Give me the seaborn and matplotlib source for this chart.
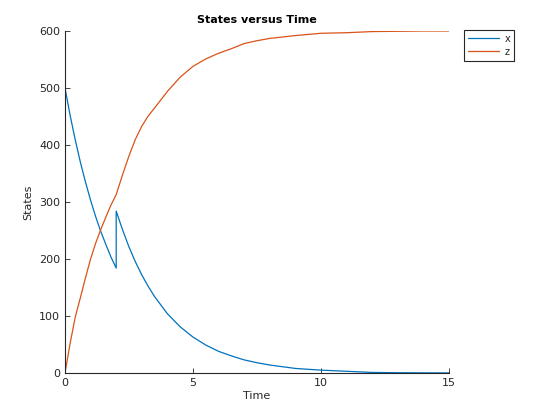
import matplotlib
matplotlib.use("Agg")
import matplotlib.pyplot as plt
import seaborn as sns
import numpy as np

time = [0, 0.2, 0.4, 0.6, 0.8, 1.0, 1.2, 1.4, 1.6, 1.8, 2.0, 2.0, 2.25, 2.5, 2.75,
        3.0, 3.25, 3.5, 4.0, 4.5, 5.0, 5.5, 6.0, 6.5, 7.0, 7.5, 8.0, 9.0, 10.0,
        11.0, 12.0, 13.0, 14.0, 15.0]
x_vals = [500, 452, 409, 370, 335, 303, 274, 248, 225, 203, 184, 284, 251, 221, 195,
          172, 152, 134, 104, 81, 63, 49, 38, 30, 23, 18, 14, 8, 5,
          3, 1, 0.5, 0.3, 0.2]
z_vals = [0, 52, 98, 132, 167, 200, 228, 252, 274, 295, 313, 313, 348, 381, 410,
          433, 451, 465, 494, 519, 538, 551, 561, 569, 578, 583, 587, 592, 596,
          597, 599, 599.5, 600, 600]
series_names = ["x", "z"]
x_ticks = [0, 5, 10, 15]
y_ticks = [0, 100, 200, 300, 400, 500, 600]

sns.set_style("ticks")
plt.rcParams["font.family"] = ["DejaVu Sans"]

fig = plt.figure(figsize=(5.6, 4.2), dpi=100)
ax = fig.add_axes([65/560, 47/420, 384/560, 342/420])

colors = ["#0072BD", "#D95319"]
sns.lineplot(x=time, y=x_vals, ax=ax, estimator=None, sort=False, color=colors[0],
             linewidth=0.9, label=series_names[0])
sns.lineplot(x=time, y=z_vals, ax=ax, estimator=None, sort=False, color=colors[1],
             linewidth=0.9, label=series_names[1])

ax.set_xlim(0, 15)
ax.set_ylim(0, 600)
ax.set_xticks(x_ticks)
ax.set_yticks(y_ticks)
ax.tick_params(direction="in", length=3.5, width=0.6, labelsize=8, colors="#262626")
for s in ["top", "right"]:
    ax.spines[s].set_visible(False)
for s in ["left", "bottom"]:
    ax.spines[s].set_color("#262626")
    ax.spines[s].set_linewidth(0.8)

ax.set_title("States versus Time", fontsize=8, fontweight="bold", color="black", pad=6)
ax.set_xlabel("Time", fontsize=8, color="#262626", labelpad=2)
ax.set_ylabel("States", fontsize=8, color="#262626", labelpad=4)

leg = ax.legend(loc="upper left", bbox_to_anchor=(464/560, 1 - 30/420),
                bbox_transform=fig.transFigure, fontsize=7, frameon=True,
                fancybox=False, edgecolor="#262626", framealpha=1,
                handlelength=3.2, borderpad=0.4, labelspacing=0.3,
                handletextpad=0.6, borderaxespad=0)
leg.get_frame().set_linewidth(0.8)

fig.savefig("out.png", dpi=100)
